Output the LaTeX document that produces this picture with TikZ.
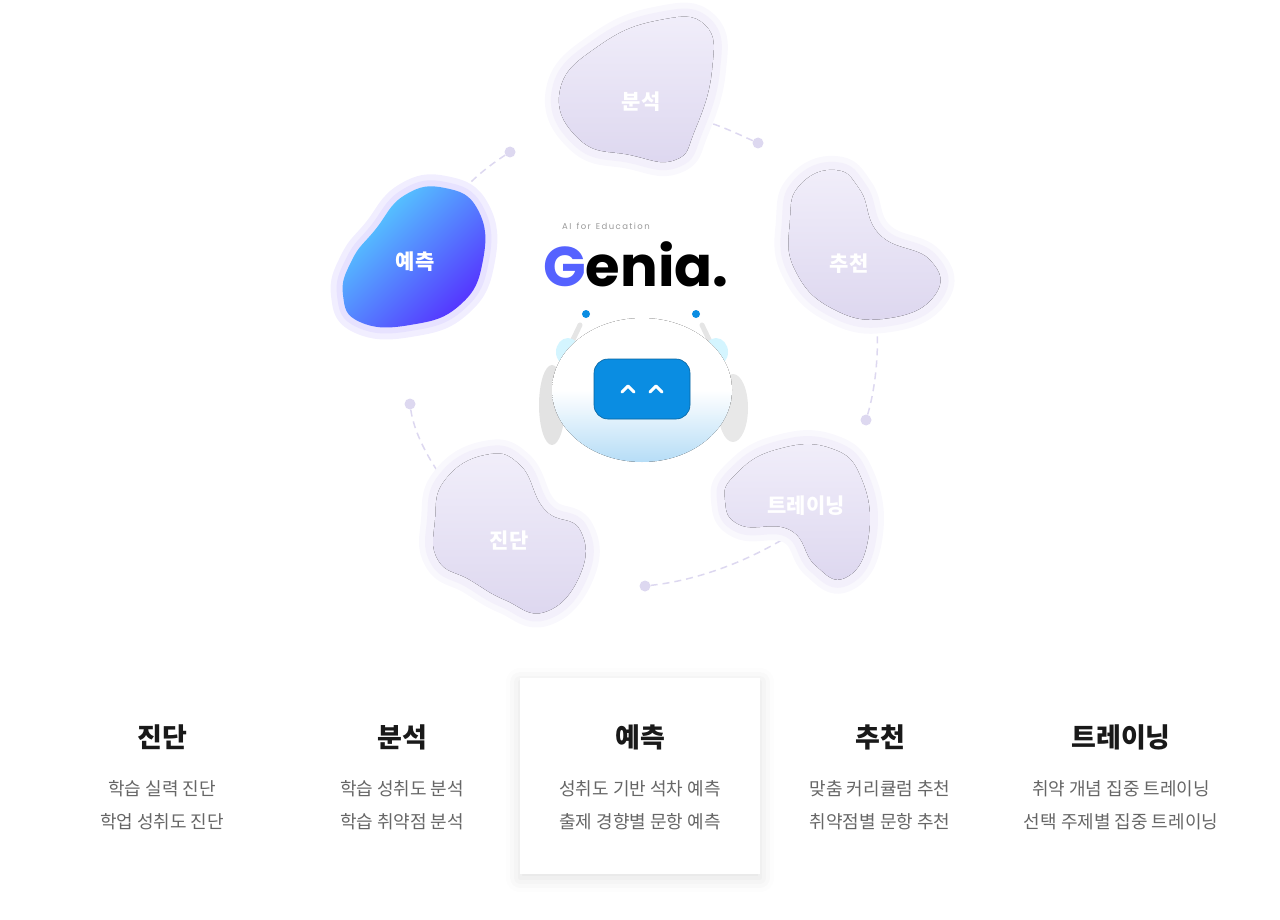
\documentclass[tikz,border=0pt]{standalone}
\usepackage{fontspec}
\setmainfont{Noto Sans CJK KR}
\newfontfamily\logofont{Poppins}
\usetikzlibrary{shadows.blur}
\definecolor{blobA}{HTML}{F1EEFA}
\definecolor{blobB}{HTML}{DDD7EF}
\definecolor{glow}{HTML}{F3F0FB}
\definecolor{dash}{HTML}{DDD8F0}
\definecolor{gtext}{HTML}{666666}
\definecolor{cyanA}{HTML}{55D6FF}
\definecolor{violA}{HTML}{5530FF}
\definecolor{faceB}{HTML}{0A8DE2}
\begin{document}
\begin{tikzpicture}[x=1pt,y=-1pt,
  glw/.style={draw=glow,line width=16pt,line join=round},
  glw2/.style={draw=glow!50,line width=28pt,line join=round},
  blabel/.style={text=white,font=\bfseries\fontsize{21}{24}\selectfont},
  dl/.style={draw=dash,line width=1.5pt,dash pattern=on 7pt off 5pt},
  dot/.style={circle,fill=dash,inner sep=0pt,minimum size=11pt},
  ttl/.style={font=\bfseries\fontsize{27}{30}\selectfont,text=black!90},
  sub/.style={font=\fontsize{18}{22}\selectfont,text=gtext}]
\useasboundingbox (0,0) rectangle (1280,920);
% dashed arcs
\node[dot] (d1) at (510,152) {};
\node[dot] (d2) at (758,143) {};
\node[dot] (d3) at (866,420) {};
\node[dot] (d4) at (645,586) {};
\node[dot] (d5) at (410,404) {};
\draw[dl] (d1) .. controls (490,165) and (470,180) .. (455,200);
\draw[dl] (d2) .. controls (740,135) and (720,125) .. (700,120);
\draw[dl] (d3) .. controls (875,390) and (880,350) .. (876,315);
\draw[dl] (d4) .. controls (700,580) and (750,560) .. (790,535);
\draw[dl] (d5) .. controls (415,440) and (440,480) .. (465,505);
% blobs
\foreach \pts in {
 {(560,90)(600,45)(660,20)(705,25)(712,70)(695,130)(675,160)(630,155)(580,140)},
 {(800,185)(835,170)(860,190)(880,235)(930,260)(935,295)(890,318)(835,310)(795,270)(790,220)},
 {(735,475)(775,450)(830,448)(862,480)(868,540)(845,578)(815,565)(790,530)(740,525)(725,500)},
 {(445,480)(485,455)(520,465)(545,510)(580,530)(580,575)(545,612)(505,600)(470,580)(438,560)(435,520)}}{
 \draw[glw2] plot[smooth cycle,tension=0.8] coordinates \pts;
 \draw[glw] plot[smooth cycle,tension=0.8] coordinates \pts;
 \fill[top color=blobA,bottom color=blobB] plot[smooth cycle,tension=0.8] coordinates \pts;
}
\node[blabel] (b1) at (641,102) {분석};
\node[blabel] (b2) at (849,264) {추천};
\node[blabel] (b3) at (806,506) {트레이닝};
\node[blabel] (b4) at (509,540) {진단};
\draw[draw=violA!8,line width=24pt,line join=round] plot[smooth cycle,tension=0.8] coordinates {(375,230)(405,195)(445,188)(478,210)(483,260)(460,305)(410,325)(360,322)(343,295)(352,260)};
\draw[draw=violA!14,line width=12pt,line join=round] plot[smooth cycle,tension=0.8] coordinates {(375,230)(405,195)(445,188)(478,210)(483,260)(460,305)(410,325)(360,322)(343,295)(352,260)};
\shade[left color=cyanA,right color=violA,shading angle=45]
 plot[smooth cycle,tension=0.8] coordinates {(375,230)(405,195)(445,188)(478,210)(483,260)(460,305)(410,325)(360,322)(343,295)(352,260)};
\node[blabel] (b5) at (415,262) {예측};
% logo
\node[text=gray!80,font=\logofont\fontsize{8.5}{10}\selectfont,inner sep=0pt] (ai) at (606,226) {A\,I\, \,f\,o\,r\, \,E\,d\,u\,c\,a\,t\,i\,o\,n};
\node[font=\logofont\bfseries\fontsize{56}{56}\selectfont,inner sep=0pt,anchor=base west] (logo) at (543,287) {\textcolor{violA!70!cyanA}{G}\textcolor{black}{enia.}};
% robot
\fill[gray!22] (552,405) ellipse (13pt and 40pt);
\fill[gray!18] (733,408) ellipse (15pt and 34pt);
\draw[gray!20,line width=5pt,line cap=round] (580,325)--(568,350);
\draw[gray!20,line width=5pt,line cap=round] (702,325)--(714,350);
\fill[cyanA!25] (568,352) ellipse (12pt and 14pt);
\fill[cyanA!25] (716,352) ellipse (12pt and 14pt);
\node[circle,fill=faceB,inner sep=0pt,minimum size=8pt] (e1) at (586,314) {};
\node[circle,fill=faceB,inner sep=0pt,minimum size=8pt] (e2) at (696,314) {};
\fill[top color=white,bottom color=faceB!30,middle color=white] (642,390) ellipse (90pt and 72pt);
\node[fill=faceB,rounded corners=14pt,minimum width=96pt,minimum height=60pt,draw=faceB!70!black,line width=0.6pt] (face) at (642,389) {};
\draw[white,line width=3pt,line cap=round,line join=round] (622,392)--(628,386)--(634,392) (650,392)--(656,386)--(662,392);
% card
\node[fill=white,minimum width=240pt,minimum height=196pt,blur shadow={shadow xshift=0pt,shadow yshift=-4pt,shadow blur radius=14pt,shadow opacity=12}] (card) at (640,776) {};
% columns
\foreach \x/\t/\a/\b [count=\i] in {162/진단/학습 실력 진단/학업 성취도 진단,402/분석/학습 성취도 분석/학습 취약점 분석,640/예측/성취도 기반 석차 예측/출제 경향별 문항 예측,880/추천/맞춤 커리큘럼 추천/취약점별 문항 추천,1121/트레이닝/취약 개념 집중 트레이닝/선택 주제별 집중 트레이닝}{
  \node[ttl] (t\i) at (\x,737) {\t};
  \node[sub] (s\i) at (\x,789) {\a};
  \node[sub] (u\i) at (\x,822) {\b};
}
\end{tikzpicture}
\end{document}
